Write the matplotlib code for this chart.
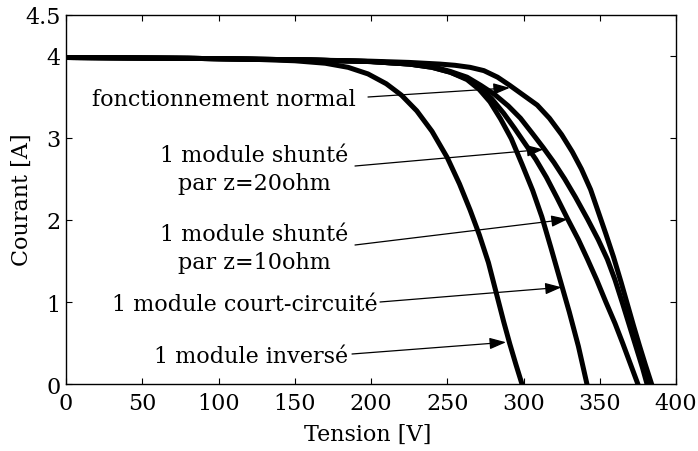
import matplotlib
matplotlib.use("Agg")
import matplotlib.pyplot as plt

# I-V curves (tension in V, courant in A)
v_normal = [0, 40, 80, 120, 160, 200, 225, 245, 255, 265, 274, 283, 291, 300, 309, 317, 325, 332,
            338, 344, 349, 354, 359, 364, 368, 372, 376, 380, 384]
i_normal = [3.98, 3.975, 3.97, 3.96, 3.95, 3.935, 3.92, 3.9, 3.885, 3.86, 3.82, 3.74, 3.64, 3.52,
            3.40, 3.24, 3.04, 2.83, 2.62, 2.37, 2.1, 1.83, 1.55, 1.24, 0.98, 0.72, 0.47, 0.23, 0]

v_20ohm = [0, 40, 80, 120, 160, 200, 225, 240, 252, 263, 272, 281, 290, 298, 306, 313, 320,
           327, 334, 342, 349, 355, 360, 365, 370, 375, 378, 381]
i_20ohm = [3.98, 3.975, 3.97, 3.96, 3.95, 3.93, 3.9, 3.87, 3.81, 3.74, 3.64, 3.53, 3.39, 3.24,
           3.05, 2.88, 2.70, 2.50, 2.28, 2.01, 1.76, 1.52, 1.27, 0.98, 0.68, 0.38, 0.2, 0]

v_10ohm = [0, 40, 80, 120, 160, 200, 225, 240, 252, 263, 271, 279, 287, 294, 301, 308, 315,
           322, 329, 336, 342, 348, 354, 360, 365, 370, 375]
i_10ohm = [3.98, 3.975, 3.97, 3.96, 3.95, 3.93, 3.9, 3.86, 3.8, 3.72, 3.62, 3.48, 3.3, 3.12,
           2.93, 2.74, 2.52, 2.27, 2.01, 1.76, 1.52, 1.27, 1.0, 0.74, 0.5, 0.25, 0]

v_cc = [0, 40, 80, 120, 160, 200, 225, 240, 252, 263, 271, 278, 285, 292, 299, 306, 312, 318,
        324, 330, 336, 341.6]
i_cc = [3.98, 3.975, 3.97, 3.96, 3.95, 3.93, 3.9, 3.86, 3.8, 3.71, 3.59, 3.44, 3.23, 2.99,
        2.68, 2.36, 2.04, 1.66, 1.27, 0.88, 0.46, 0]

v_inv = [0, 40, 80, 120, 150, 170, 185, 198, 210, 220, 230, 240, 250, 258, 265, 271, 277,
         282, 287, 291, 295, 299]
i_inv = [3.98, 3.975, 3.97, 3.96, 3.94, 3.91, 3.86, 3.78, 3.66, 3.52, 3.33, 3.08, 2.76, 2.44,
         2.12, 1.82, 1.48, 1.12, 0.76, 0.49, 0.24, 0]

labels = ["fonctionnement normal",
          "1 module shunté\npar z=20ohm",
          "1 module shunté\npar z=10ohm",
          "1 module court-circuité",
          "1 module inversé"]
# arrow tips on the curves (data coords)
tip_xy = [(291, 3.61), (313, 2.86), (329, 2.01), (325, 1.18), (288.5, 0.51)]

plt.rcParams['font.family'] = ['DejaVu Serif']

fig = plt.figure(figsize=(6.98, 4.52), dpi=100)
ax = fig.add_axes([0.0946, 0.148, 0.8739, 0.817])

for v, i in [(v_normal, i_normal), (v_20ohm, i_20ohm), (v_10ohm, i_10ohm),
             (v_cc, i_cc), (v_inv, i_inv)]:
    ax.plot(v, i, color='black', lw=3.6, solid_joinstyle='round')

# label centres and arrow tails, figure pixels from top-left
text_px = [(224, 100), (254, 170), (254, 249), (245, 305), (251, 357)]
tail_px = [(368, 98), (355, 167), (355, 246), (380, 303), (352, 355)]
for lab, (tx, ty), (ax_, ay), tip in zip(labels, text_px, tail_px, tip_xy):
    ax.text(tx, 452 - ty, lab, transform=None, ha='center', va='center',
            fontsize=16, linespacing=1.3, multialignment='center')
    ax.annotate('', xy=tip, xytext=(ax_, 452 - ay), textcoords='figure pixels',
                arrowprops=dict(arrowstyle='-|>,head_length=1.0,head_width=0.35',
                                color='black', lw=0.9, shrinkA=0, shrinkB=0))

ax.set_xlim(0, 400)
ax.set_ylim(0, 4.5)
ax.set_xticks(range(0, 401, 50))
ax.set_yticks([0, 1, 2, 3, 4, 4.5])
ax.set_yticklabels(['0', '1', '2', '3', '4', '4.5'])
ax.tick_params(direction='in', top=True, right=True, labelsize=16, length=4)
ax.tick_params(axis='x', pad=6)
ax.tick_params(axis='y', pad=4)
fig.text(368 / 698, 1 - 435 / 452, "Tension [V]", ha='center', va='center', fontsize=16)
fig.text(22 / 698, 1 - 200 / 452, "Courant [A]", ha='center', va='center', fontsize=16,
         rotation=90)
for s in ax.spines.values():
    s.set_linewidth(1.0)

plt.savefig("out.png", dpi=100)
